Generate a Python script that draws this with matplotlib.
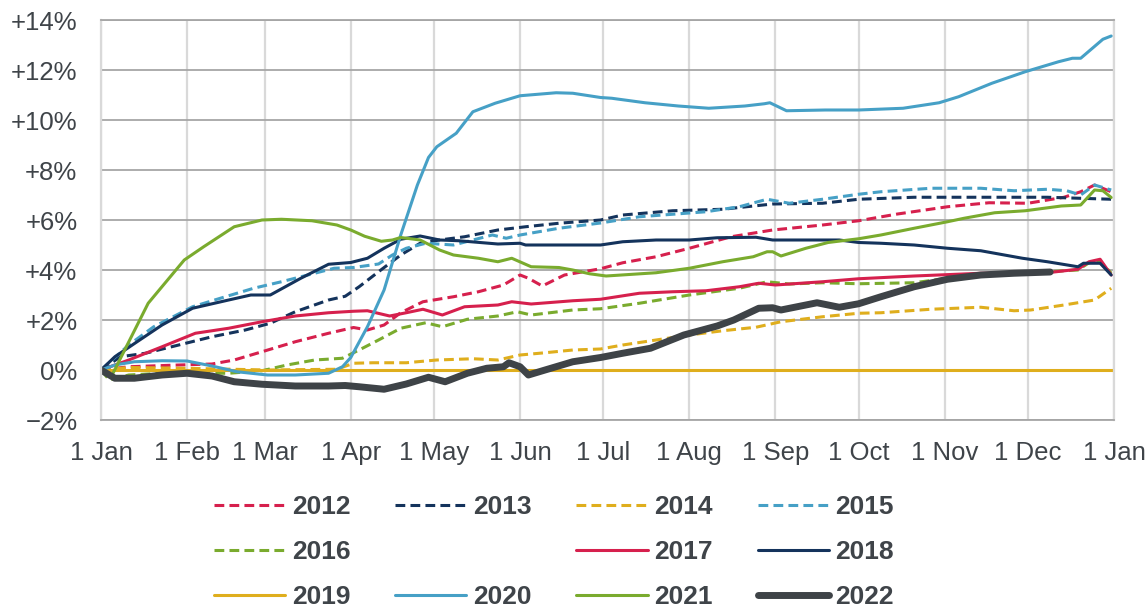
import matplotlib
matplotlib.use('Agg')
import matplotlib.pyplot as plt
from matplotlib.lines import Line2D

plt.rcParams['font.family'] = ['Liberation Sans', 'DejaVu Sans']

#### Axis labels
month_days = [0, 31, 59, 90, 120, 151, 181, 212, 243, 273, 304, 334, 365]
month_labels = ['1 Jan', '1 Feb', '1 Mar', '1 Apr', '1 May', '1 Jun', '1 Jul',
                '1 Aug', '1 Sep', '1 Oct', '1 Nov', '1 Dec', '1 Jan']
y_ticks = [-2, 0, 2, 4, 6, 8, 10, 12, 14]
y_labels = ['\u22122%', '0%', '+2%', '+4%', '+6%', '+8%', '+10%', '+12%', '+14%']

#### Data (day of year, cumulative % change)
d2012 = [0, 10, 28, 40, 48, 58, 70, 82, 91, 96, 102, 108, 116, 127, 136, 145, 151, 154, 159, 167,
         180, 188, 200, 212, 227, 242, 260, 273, 287, 305, 320, 334, 347, 353, 358, 364]
v2012 = [0, 0.13, 0.2, 0.24, 0.4, 0.73, 1.13, 1.47, 1.7, 1.6, 1.8, 2.29, 2.73, 2.93, 3.13, 3.4, 3.8, 3.67, 3.36, 3.8,
         4.05, 4.29, 4.53, 4.87, 5.33, 5.6, 5.8, 5.97, 6.24, 6.53, 6.69, 6.67, 6.91, 7.13, 7.4, 7.13]

d2013 = [0, 7, 16, 28, 40, 52, 61, 70, 82, 88, 93, 100, 108, 115, 122, 131, 143, 153, 165, 180,
         188, 206, 224, 242, 260, 273, 293, 317, 341, 364]
v2013 = [0, 0.53, 0.67, 1.0, 1.33, 1.6, 1.87, 2.33, 2.8, 2.95, 3.33, 3.93, 4.6, 5.07, 5.2, 5.33, 5.6, 5.73, 5.87, 6.0,
         6.2, 6.37, 6.43, 6.64, 6.67, 6.83, 6.91, 6.91, 6.91, 6.83]

d2014 = [0, 10, 30, 60, 85, 91, 98, 110, 121, 134, 143, 151, 160, 170, 180, 188, 200, 212, 224, 236,
         245, 260, 273, 281, 299, 317, 329, 335, 347, 358, 364]
v2014 = [0, 0.1, 0.07, 0.0, 0.03, 0.27, 0.29, 0.29, 0.4, 0.45, 0.4, 0.6, 0.69, 0.8, 0.84, 1.0, 1.2, 1.4, 1.57, 1.71,
         1.93, 2.13, 2.27, 2.29, 2.43, 2.51, 2.37, 2.4, 2.6, 2.8, 3.27]

d2015 = [0, 10, 19, 33, 43, 55, 65, 77, 84, 91, 100, 105, 110, 117, 127, 134, 141, 146, 151, 165,
         180, 194, 206, 218, 230, 240, 248, 260, 273, 281, 299, 317, 329, 341, 348, 353, 358, 364]
v2015 = [0, 1.0, 1.73, 2.53, 2.87, 3.27, 3.53, 3.87, 4.07, 4.1, 4.24, 4.6, 4.87, 5.07, 5.0, 5.2, 5.4, 5.27, 5.4, 5.67,
         5.88, 6.13, 6.23, 6.33, 6.53, 6.83, 6.67, 6.83, 7.03, 7.13, 7.27, 7.27, 7.17, 7.23, 7.17, 7.0, 7.4, 7.2]

d2016 = [0, 3, 10, 22, 34, 46, 58, 67, 77, 87, 93, 100, 108, 117, 123, 132, 143, 150, 155, 170,
         180, 194, 212, 230, 240, 248, 260, 273, 293, 305, 323, 341, 352, 356, 360, 364]
v2016 = [0, -0.4, -0.2, -0.13, -0.13, -0.13, -0.03, 0.2, 0.4, 0.47, 0.8, 1.2, 1.67, 1.89, 1.73, 2.03, 2.16, 2.33, 2.2, 2.4,
         2.45, 2.67, 3.0, 3.27, 3.53, 3.44, 3.49, 3.45, 3.49, 3.67, 3.8, 3.93, 4.0, 4.29, 4.37, 3.87]

d2017 = [0, 10, 22, 34, 46, 58, 70, 82, 91, 96, 104, 110, 116, 123, 131, 143, 148, 155, 170, 180,
         194, 206, 218, 230, 237, 243, 260, 273, 293, 317, 341, 352, 356, 360, 364]
v2017 = [0, 0.4, 0.93, 1.47, 1.67, 1.93, 2.16, 2.29, 2.35, 2.37, 2.16, 2.29, 2.43, 2.2, 2.53, 2.6, 2.73, 2.64, 2.77, 2.83,
         3.07, 3.13, 3.17, 3.33, 3.47, 3.4, 3.53, 3.65, 3.76, 3.87, 3.89, 4.03, 4.33, 4.43, 3.8]

d2018 = [0, 5, 13, 22, 33, 46, 54, 61, 72, 82, 90, 96, 102, 108, 115, 122, 129, 143, 151, 153,
         180, 188, 200, 212, 222, 236, 242, 254, 266, 273, 281, 293, 305, 317, 332, 341, 352, 354, 360, 364]
v2018 = [0, 0.53, 1.13, 1.8, 2.47, 2.8, 3.0, 3.0, 3.67, 4.23, 4.3, 4.47, 4.87, 5.23, 5.36, 5.2, 5.17, 5.04, 5.07, 5.0,
         5.0, 5.13, 5.2, 5.2, 5.29, 5.31, 5.2, 5.2, 5.2, 5.1, 5.07, 5.0, 4.87, 4.77, 4.47, 4.33, 4.13, 4.27, 4.27, 3.8]

d2019 = [0, 365]
v2019 = [0, 0]

d2020 = [0, 5, 12, 22, 31, 40, 49, 60, 70, 82, 87, 90, 96, 102, 108, 114, 118, 121, 128, 134,
         142, 151, 164, 170, 180, 184, 196, 208, 219, 232, 239, 241, 247, 261, 273, 289, 302, 309, 321, 333,
         345, 350, 353, 361, 364]
v2020 = [0, 0.2, 0.33, 0.37, 0.36, 0.16, -0.07, -0.2, -0.2, -0.13, 0.13, 0.5, 1.73, 3.2, 5.4, 7.4, 8.5, 8.93, 9.47, 10.33,
         10.67, 10.97, 11.09, 11.07, 10.9, 10.87, 10.69, 10.56, 10.47, 10.56, 10.65, 10.69, 10.37, 10.4, 10.4, 10.47, 10.69, 10.93, 11.47, 11.93,
         12.33, 12.47, 12.47, 13.23, 13.36]

d2021 = [0, 4, 17, 30, 37, 48, 58, 65, 76, 85, 90, 95, 101, 105, 108, 115, 122, 127, 136, 143,
         148, 155, 165, 170, 176, 182, 200, 212, 224, 235, 240, 242, 245, 254, 262, 273, 281, 293, 305, 311,
         322, 333, 346, 353, 358, 361, 364]
v2021 = [0, -0.2, 2.67, 4.4, 4.93, 5.73, 6.0, 6.03, 5.97, 5.8, 5.6, 5.35, 5.15, 5.2, 5.3, 5.2, 4.8, 4.6, 4.47, 4.33,
         4.47, 4.13, 4.1, 4.0, 3.85, 3.76, 3.89, 4.07, 4.33, 4.53, 4.73, 4.73, 4.56, 4.87, 5.1, 5.25, 5.4, 5.67, 5.93, 6.07,
         6.29, 6.37, 6.56, 6.6, 7.2, 7.17, 6.9]

d2022 = [0, 5, 12, 22, 31, 40, 48, 58, 70, 82, 88, 93, 102, 110, 118, 124, 132, 139, 145, 147,
         151, 154, 160, 170, 180, 188, 198, 210, 222, 228, 237, 242, 245, 258, 266, 273, 281, 293, 305, 317,
         329, 342]
v2022 = [0, -0.33, -0.33, -0.2, -0.13, -0.24, -0.47, -0.57, -0.64, -0.64, -0.62, -0.67, -0.77, -0.56, -0.29, -0.47, -0.13, 0.07, 0.13, 0.29,
         0.13, -0.2, 0.0, 0.33, 0.5, 0.67, 0.87, 1.4, 1.76, 2.0, 2.47, 2.49, 2.4, 2.69, 2.51, 2.65, 2.93, 3.33, 3.63, 3.8,
         3.87, 3.92]

#### Styles
red   = '#D6204D'
navy  = '#14335C'
gold  = '#DFAE1D'
blue  = '#46A0C6'
green = '#7AAB2E'
grey  = '#3E4347'
text_color = '#3F4449'

dash = (3.2, 1.7)
lw = 2.2

series = [
    ('2012', d2012, v2012, red,   dash, lw),
    ('2013', d2013, v2013, navy,  dash, lw),
    ('2014', d2014, v2014, gold,  dash, lw),
    ('2015', d2015, v2015, blue,  dash, lw),
    ('2016', d2016, v2016, green, dash, lw),
    ('2017', d2017, v2017, red,   None, lw),
    ('2018', d2018, v2018, navy,  None, lw),
    ('2019', d2019, v2019, gold,  None, lw),
    ('2020', d2020, v2020, blue,  None, lw),
    ('2021', d2021, v2021, green, None, lw),
    ('2022', d2022, v2022, grey,  None, 5.0),
]

#### Figure
fig = plt.figure(figsize=(11.48, 6.09), dpi=100)
ax = fig.add_axes([101/1148, 1 - 420/609, 1013/1148, 400/609])

lines = {}
for name, d, v, c, ds, w in series:
    ln, = ax.plot(d, v, color=c, lw=w, solid_capstyle='round', label=name)
    if ds is not None:
        ln.set_dashes(ds)
    lines[name] = ln

ax.set_xlim(0, 365)
ax.set_ylim(-2, 14)
ax.set_xticks(month_days)
ax.set_xticklabels(month_labels)
ax.set_yticks(y_ticks)
ax.set_yticklabels(y_labels)
ax.tick_params(axis='both', length=0, labelsize=18.5, colors=text_color)
ax.tick_params(axis='y', pad=17)
ax.tick_params(axis='x', pad=15)

ax.grid(axis='y', color='#A6A6A6', lw=1.3, zorder=0)
ax.grid(axis='x', color='#D9D9D9', lw=1.6, zorder=0)
ax.set_axisbelow(True)
for s in ['top', 'bottom']:
    ax.spines[s].set_color('#A6A6A6')
    ax.spines[s].set_linewidth(1.3)
for s in ['left', 'right']:
    ax.spines[s].set_color('#D9D9D9')
    ax.spines[s].set_linewidth(1.6)

#### Legend (column-major fill, one empty slot)
blank = Line2D([], [], color='none', label=' ')
order = ['2012', '2016', '2019', '2013', None, '2020', '2014', '2017', '2021', '2015', '2018', '2022']
handles = [lines[k] if k else blank for k in order]
labels = [k if k else '' for k in order]
leg = fig.legend(handles, labels, loc='center', bbox_to_anchor=(554/1148, 1 - 552/609),
                 ncol=4, frameon=False, handlelength=2.7, handletextpad=0.25,
                 columnspacing=1.7, labelspacing=0.8,
                 prop={'weight': 'bold', 'size': 19})
for t in leg.get_texts():
    t.set_color(text_color)

fig.savefig('out.png', dpi=100)
